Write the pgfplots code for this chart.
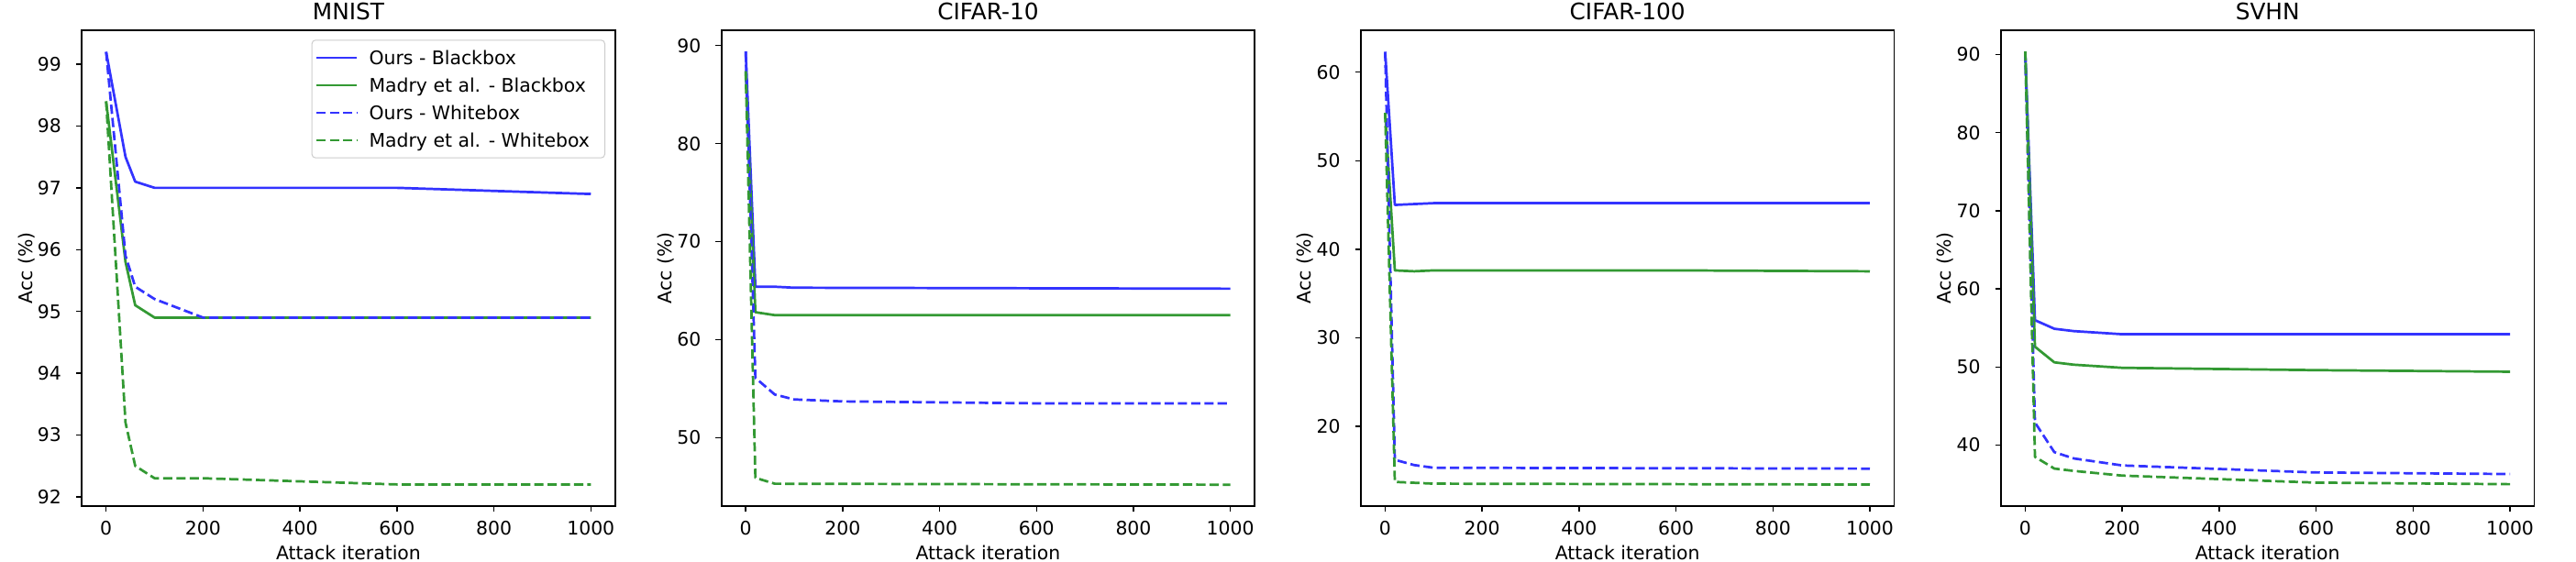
\documentclass[border=0pt]{standalone}
\usepackage{pgfplots}
\pgfplotsset{compat=1.18}
\usepackage{fontspec}
\setmainfont{DejaVu Sans}
\definecolor{cb}{RGB}{51,51,255}
\definecolor{cg}{RGB}{51,153,51}
\newcommand\tfont{\fontsize{10.2}{12.2}\selectfont}
\pgfplotsset{
  base/.style={
    scale only axis, width=290.7pt, height=259.5pt, anchor=south west,
    xmin=-50, xmax=1050, xtick={0,200,...,1000},
    /pgf/number format/assume math mode=true,
    /pgf/number format/1000 sep={},
    scaled ticks=false,
    tick label style={font=\tfont},
    every axis title/.style={at={(axis description cs:0.5,1.0222)}, anchor=base, font=\fontsize{12.4}{14.5}\selectfont},
    xlabel={Attack iteration}, ylabel={Acc (\%)},
    every axis x label/.style={at={(axis description cs:0.5,-0.1137)}, anchor=base, font=\tfont},
    every axis y label/.style={at={(axis description cs:-0.093,0.5)}, rotate=90, anchor=base, font=\tfont},
    tick align=inside, major tick length=3.2pt,
    every tick/.style={black, line width=0.73pt},
    xtick style={yshift=-3.2pt},
    ytick style={xshift=-3.2pt},
    axis line style={line width=0.8pt},
    xtick pos=left, ytick pos=left,
    xticklabel style={anchor=base, yshift=-15.8pt},
    yticklabel style={anchor=east, xshift=-7.65pt},
    every axis plot/.append style={line width=1.36pt, line join=round},
  },
  dl/.style={dash pattern=on 5.05pt off 2.18pt},
}
\begin{document}
\begin{tikzpicture}
\useasboundingbox (0,0) rectangle (1404.5pt,306.5pt);
% MNIST
\begin{axis}[base, at={(44.65pt,30.5pt)}, title={MNIST},
  ymin=91.85, ymax=99.55, ytick={92,93,...,99},
  legend style={at={(axis description cs:0.9816,0.9802)}, anchor=north east,
    draw=black!20, line width=0.5pt, rounded corners=2pt, fill=white, fill opacity=0.8, text opacity=1,
    inner xsep=1.85pt, inner ysep=2.6pt, row sep=1pt, font=\tfont,
    nodes={inner sep=2pt, text height=8.74pt, text depth=1.26pt},
    /tikz/every odd column/.append style={column sep=4.3pt}},
  legend cell align=left,
  legend image code/.code={\draw[#1] (0pt,0pt) -- (21.7pt,0pt);}]
\addplot[cb] coordinates {(0,99.2)(40,97.5)(60,97.1)(100,97.0)(600,97.0)(1000,96.9)};
\addlegendentry{Ours - Blackbox\hspace*{4.45pt}}
\addplot[cg] coordinates {(0,98.4)(40,95.8)(60,95.1)(100,94.9)(1000,94.9)};
\addlegendentry{Madry et al. - Blackbox\hspace*{4.45pt}}
\addplot[cb,dl] coordinates {(0,99.2)(40,95.9)(60,95.4)(100,95.2)(200,94.9)(1000,94.9)};
\addlegendentry{Ours - Whitebox\hspace*{4.45pt}}
\addplot[cg,dl] coordinates {(0,98.4)(40,93.2)(60,92.5)(100,92.3)(200,92.3)(600,92.2)(1000,92.2)};
\addlegendentry{Madry et al. - Whitebox\hspace*{4.45pt}}
\end{axis}
% CIFAR-10
\begin{axis}[base, at={(393.35pt,30.5pt)}, title={CIFAR-10},
  ymin=43.02, ymax=91.57, ytick={50,60,...,90}]
\addplot[cb] coordinates {(0,89.4)(20,65.4)(60,65.4)(100,65.3)(1000,65.2)};
\addplot[cg] coordinates {(0,87.4)(20,62.8)(60,62.5)(1000,62.5)};
\addplot[cb,dl] coordinates {(0,89.4)(20,56.1)(60,54.4)(100,53.9)(200,53.7)(600,53.5)(1000,53.5)};
\addplot[cg,dl] coordinates {(0,87.4)(20,45.9)(60,45.3)(1000,45.2)};
\end{axis}
% CIFAR-100
\begin{axis}[base, at={(742pt,30.5pt)}, title={CIFAR-100},
  ymin=10.97, ymax=64.74, ytick={20,30,...,60}]
\addplot[cb] coordinates {(0,62.3)(20,45.0)(60,45.1)(100,45.2)(1000,45.2)};
\addplot[cg] coordinates {(0,55.4)(20,37.6)(60,37.5)(100,37.6)(600,37.6)(1000,37.5)};
\addplot[cb,dl] coordinates {(0,62.3)(20,16.2)(60,15.6)(100,15.3)(1000,15.2)};
\addplot[cg,dl] coordinates {(0,55.4)(20,13.7)(100,13.5)(1000,13.4)};
\end{axis}
% SVHN
\begin{axis}[base, at={(1091pt,30.5pt)}, title={SVHN},
  ymin=32.2, ymax=93.12, ytick={40,50,...,90}]
\addplot[cb] coordinates {(0,90.2)(20,56.0)(60,54.9)(100,54.6)(200,54.2)(1000,54.2)};
\addplot[cg] coordinates {(0,90.4)(20,52.6)(60,50.6)(100,50.3)(200,49.9)(600,49.6)(1000,49.4)};
\addplot[cb,dl] coordinates {(0,90.2)(20,42.9)(60,39.1)(100,38.3)(200,37.4)(600,36.5)(1000,36.3)};
\addplot[cg,dl] coordinates {(0,90.4)(20,38.5)(60,37.0)(100,36.7)(200,36.1)(600,35.2)(1000,35.0)};
\end{axis}
\end{tikzpicture}
\end{document}
